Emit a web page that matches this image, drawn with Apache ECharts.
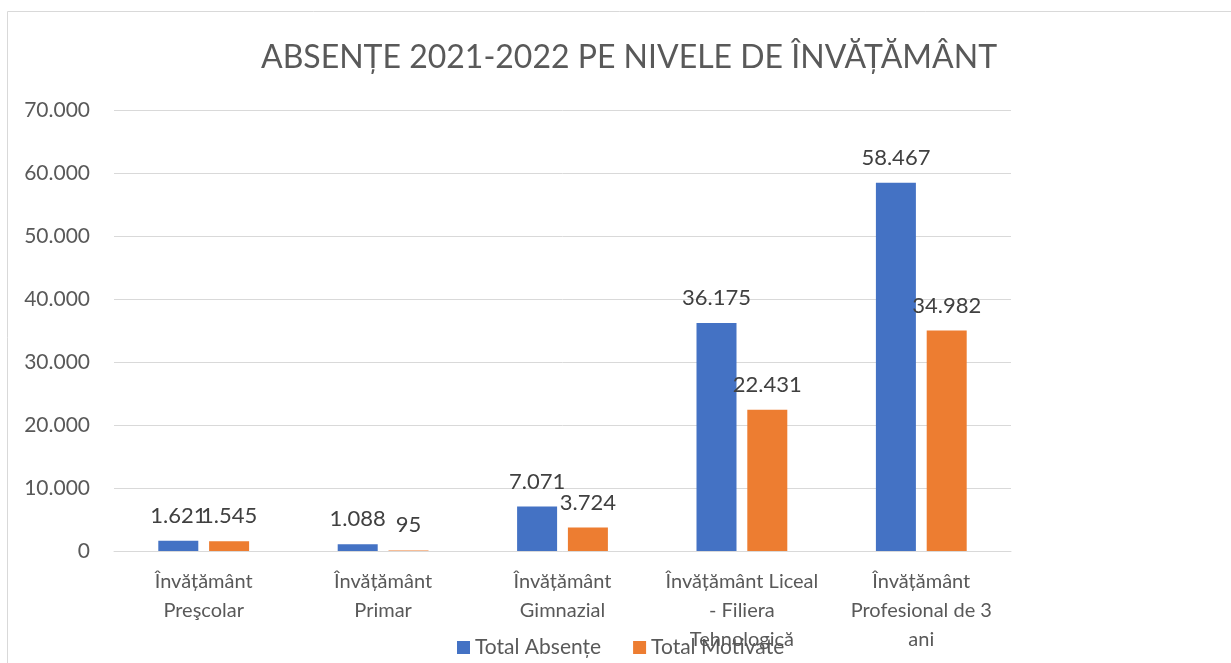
<!DOCTYPE html>
<html>
<head>
<meta charset="utf-8">
<script src="https://cdn.jsdelivr.net/npm/echarts@6/dist/echarts.min.js"></script>
<style>
  html, body { margin: 0; padding: 0; background: #fff; overflow: hidden; }
  #main { width: 1231px; height: 663px; }
</style>
</head>
<body>
<div id="main"></div>
<script>
const categories = [
  "Învățământ\nPreşcolar",
  "Învățământ\nPrimar",
  "Învățământ\nGimnazial",
  "Învățământ Liceal\n- Filiera\nTehnologică",
  "Învățământ\nProfesional de 3\nani"
];
const totalAbsente = [1621, 1088, 7071, 36175, 58467];
const totalMotivate = [1545, 95, 3724, 22431, 34982];
const seriesNames = ["Total Absențe", "Total Motivate"];

const fmt = v => String(v).replace(/\B(?=(\d{3})+(?!\d))/g, ".");
const font = "Lato, 'Open Sans', sans-serif";

const chart = echarts.init(document.getElementById("main"));

const barLabel = {
  show: true,
  position: "top",
  distance: 14,
  color: "#404040",
  fontFamily: font,
  fontSize: 22,
  formatter: p => fmt(p.value)
};

const option = {
  animation: false,
  textStyle: { fontFamily: font },
  graphic: [
    {
      type: "rect",
      shape: { x: 7.5, y: 11.5, width: 1400, height: 800 },
      style: { fill: "none", stroke: "#d9d9d9", lineWidth: 1 },
      silent: true
    }
  ],
  title: {
    text: "ABSENȚE 2021-2022 PE NIVELE DE ÎNVĂȚĂMÂNT",
    left: 624,
    top: 37,
    textAlign: "center",
    textStyle: {
      fontFamily: font,
      fontSize: 32,
      fontWeight: "normal",
      color: "#595959"
    }
  },
  legend: {
    left: 452,
    top: 632,
    icon: "rect",
    itemWidth: 13,
    itemHeight: 13,
    itemGap: 32,
    textStyle: { fontSize: 21, color: "#595959", fontFamily: font },
    data: seriesNames
  },
  grid: {
    left: 114,
    right: 220,
    top: 110,
    bottom: 112,
    containLabel: false
  },
  xAxis: {
    type: "category",
    data: categories,
    axisLine: { lineStyle: { color: "#d9d9d9", width: 1 } },
    axisTick: { show: false },
    axisLabel: {
      interval: 0,
      margin: 16,
      fontSize: 20,
      lineHeight: 29,
      color: "#595959",
      fontFamily: font
    }
  },
  yAxis: {
    type: "value",
    min: 0,
    max: 70000,
    interval: 10000,
    axisLine: { show: false },
    axisTick: { show: false },
    splitLine: { lineStyle: { color: "#d9d9d9", width: 1 } },
    axisLabel: {
      margin: 24,
      fontSize: 21,
      color: "#595959",
      fontFamily: font,
      formatter: v => fmt(v)
    }
  },
  series: [
    {
      name: seriesNames[0],
      type: "bar",
      data: totalAbsente,
      barWidth: 40,
      barGap: "27%",
      itemStyle: { color: "#4472C4" },
      label: barLabel
    },
    {
      name: seriesNames[1],
      type: "bar",
      data: totalMotivate,
      barWidth: 40,
      barGap: "27%",
      itemStyle: { color: "#ED7D31" },
      label: barLabel
    }
  ]
};

chart.setOption(option);
</script>
</body>
</html>
